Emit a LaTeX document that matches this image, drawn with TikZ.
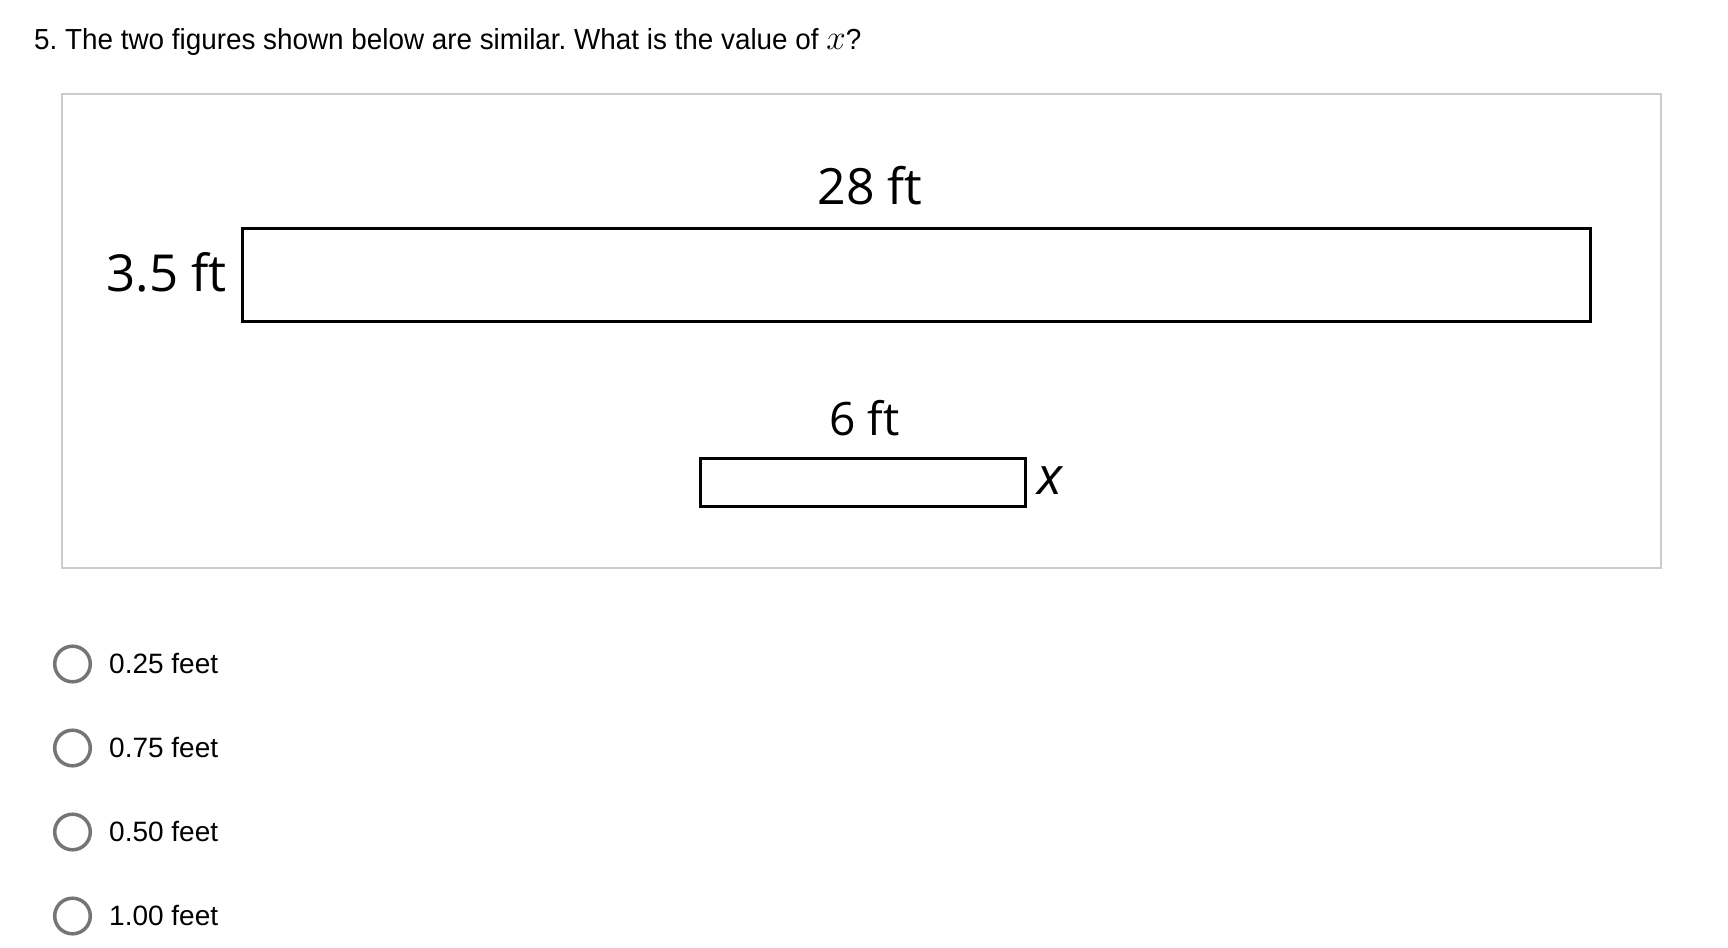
\documentclass[tikz,border=0pt]{standalone}
\usepackage{fix-cm}
\usepackage{fontspec}
\setmainfont{Liberation Sans}
\newfontfamily\questfont[FakeStretch=0.96]{Liberation Sans}
\newfontfamily\figfont{Open Sans}
\usepackage{tikz}
\definecolor{framegray}{HTML}{CCCCCC}
\definecolor{radiogray}{HTML}{757575}
\tikzset{
	% rectangles of the figure and their side labels
	bar/.style={rectangle,draw=black,line width=3pt,inner sep=0,fill=white},
	side label/.style={inner sep=0,font=\figfont\fontsize{50}{60}\selectfont},
	% answer choices
	radio/.style={circle,draw=radiogray,line width=3.5pt,inner sep=0,minimum size=35.6pt},
	choice/.style={anchor=base west,inner sep=0,font=\fontsize{28}{34}\selectfont}
}
\frenchspacing
\begin{document}
\begin{tikzpicture}[x=1pt,y=-1pt]
\useasboundingbox[fill=white] (0,0) rectangle (1728,947);

% question
\node[anchor=base west, inner sep=0, font=\questfont\fontsize{29}{35}\selectfont] (q) at (34,50)
  {5. The two figures shown below are similar. What is the value of {\fontsize{35}{40}\selectfont$x$}?};

% frame round the figures
\node[rectangle, draw=framegray, line width=2.5pt, minimum width=1599pt, minimum height=474pt, inner sep=0] (frame) at (861.5,331) {};

% large figure
\node[bar, minimum width=1348pt, minimum height=93pt] (big) at (916,274.5) {};
\node[side label, anchor=base] (bigw) at (870,204) {28 ft};
\node[side label, anchor=base east, font=\figfont\fontsize{51}{61}\selectfont] (bigh) at (227,291) {3.5 ft};

% small figure
\node[bar, minimum width=325pt, minimum height=48pt] (small) at (862.5,482) {};
\node[side label, anchor=base, font=\figfont\fontsize{46}{55}\selectfont] (smallw) at (864.5,435) {6 ft};
\node[side label, anchor=base west, font=\figfont\itshape\fontsize{52}{62}\selectfont] (smallh) at (1037,494) {x};

% answer choices
\node[radio] (r1) at (72.5,664) {};
\node[radio] (r2) at (72.5,748) {};
\node[radio] (r3) at (72.5,832) {};
\node[radio] (r4) at (72.5,916) {};
\node[choice] (c1) at (109,673) {0.25 feet};
\node[choice] (c2) at (109,757) {0.75 feet};
\node[choice] (c3) at (109,841) {0.50 feet};
\node[choice] (c4) at (109,925) {1.00 feet};

\end{tikzpicture}
\end{document}
